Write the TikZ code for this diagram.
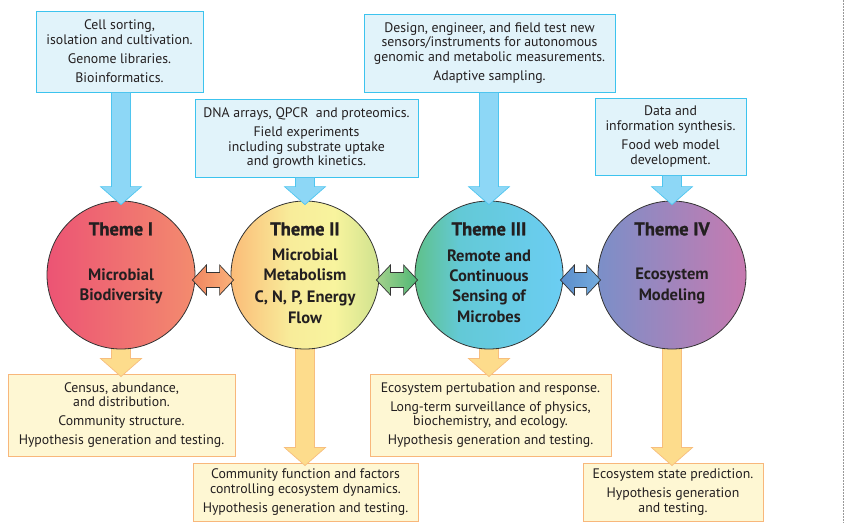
\documentclass[tikz,border=0pt]{standalone}
\usepackage{fontspec}
\setmainfont{PT Sans}
\newfontfamily\heavyfont[FakeBold=1.2]{PT Sans Bold}
\usetikzlibrary{calc,backgrounds}

% palette
\definecolor{ink}{HTML}{231F20}
\definecolor{topfill}{HTML}{E1F3FA}
\definecolor{topline}{HTML}{3CC3EE}
\definecolor{toparrow}{HTML}{8DD7F6}
\definecolor{toparrowline}{HTML}{4FC5EF}
\definecolor{botfill}{HTML}{FEF7D3}
\definecolor{botline}{HTML}{F8B77B}
\definecolor{botarrow}{HTML}{FDDC8C}
\definecolor{botarrowline}{HTML}{F7BE7E}
\definecolor{rimline}{HTML}{333333}
\definecolor{oneL}{HTML}{EC5474}
\definecolor{oneR}{HTML}{F38B6E}
\definecolor{twoL}{HTML}{FBBC78}
\definecolor{twoM}{HTML}{F8EC9A}
\definecolor{twoN}{HTML}{F8F49E}
\definecolor{twoR}{HTML}{CFE28E}
\definecolor{threeL}{HTML}{5FC18A}
\definecolor{threeM}{HTML}{63C9D6}
\definecolor{threeR}{HTML}{6BCDF3}
\definecolor{fourL}{HTML}{7B8FC8}
\definecolor{fourR}{HTML}{C77AB0}
\definecolor{linkAL}{HTML}{EF8560}
\definecolor{linkAR}{HTML}{FBB27A}
\definecolor{linkBL}{HTML}{A6D28C}
\definecolor{linkBR}{HTML}{4DB675}
\definecolor{linkCL}{HTML}{5B8CCB}
\definecolor{linkCR}{HTML}{74ADDE}

% left-to-right fills of the four theme discs
\pgfdeclarehorizontalshading{themeone}{100bp}{color(0bp)=(oneL); color(25bp)=(oneL); color(75bp)=(oneR); color(100bp)=(oneR)}
\pgfdeclarehorizontalshading{themetwo}{100bp}{color(0bp)=(twoL); color(25bp)=(twoL); color(45bp)=(twoM); color(60bp)=(twoN); color(75bp)=(twoR); color(100bp)=(twoR)}
\pgfdeclarehorizontalshading{themethree}{100bp}{color(0bp)=(threeL); color(25bp)=(threeL); color(40bp)=(threeM); color(75bp)=(threeR); color(100bp)=(threeR)}
\pgfdeclarehorizontalshading{themefour}{100bp}{color(0bp)=(fourL); color(25bp)=(fourL); color(75bp)=(fourR); color(100bp)=(fourR)}

% vertical block arrow: style, start, target (tip)
\newcommand{\blockdown}[3]{%
  \path[#1] let \p1=(#2), \p2=(#3) in
    (\x1-9.5pt,\y1) -- (\x1+9.5pt,\y1) -- (\x1+9.5pt,\y2+18pt) -- (\x1+20.5pt,\y2+18pt)
    -- (\x1,\y2) -- (\x1-20.5pt,\y2+18pt) -- (\x1-9.5pt,\y2+18pt) -- cycle;}
% horizontal double-headed block arrow: style, left tip, right tip
\newcommand{\blockboth}[3]{%
  \path[#1] let \p1=(#2), \p2=(#3) in
    (\x1,\y1) -- (\x1+14pt,\y1+15pt) -- (\x1+14pt,\y1+7.5pt) -- (\x2-14pt,\y1+7.5pt)
    -- (\x2-14pt,\y1+15pt) -- (\x2,\y1) -- (\x2-14pt,\y1-15pt) -- (\x2-14pt,\y1-7.5pt)
    -- (\x1+14pt,\y1-7.5pt) -- (\x1+14pt,\y1-15pt) -- cycle;}

\tikzset{
  boxtext/.style={align=center, text=ink, inner sep=0pt, line width=0.9pt,
    font=\fontsize{13.8}{14.6}\selectfont},
  topbox/.style={boxtext, draw=topline, fill=topfill},
  botbox/.style={boxtext, draw=botline, fill=botfill},
  theme/.style={circle, minimum size=148pt, inner sep=0pt, draw=rimline, line width=0.8pt, shade},
  themetitle/.style={text=ink, font=\fontsize{18.5}{20}\heavyfont},
  themebody/.style={text=ink, align=center, font=\fontsize{16.5}{20.3}\selectfont\bfseries},
  inarrow/.style={fill=toparrow, draw=toparrowline, line width=0.7pt},
  outarrow/.style={fill=botarrow, draw=botarrowline, line width=0.7pt},
  linkarrow/.style={draw=rimline, line width=0.7pt},
}

\begin{document}
\begin{tikzpicture}[x=1pt, y=-1pt]
\useasboundingbox (0,0) rectangle (847,523);

% theme discs
\node[theme, shading=themeone]   (c1) at (121,275) {};
\node[theme, shading=themetwo]   (c2) at (305,275) {};
\node[theme, shading=themethree] (c3) at (489,275) {};
\node[theme, shading=themefour]  (c4) at (672,275) {};

\node[themetitle] (t1) at (121,229) {Theme I};
\node[themetitle] (t2) at (305,229) {Theme II};
\node[themetitle] (t3) at (489,229) {Theme III};
\node[themetitle] (t4) at (672,229) {Theme IV};

\node[themebody] (d1) at (121,286) {Microbial\\Biodiversity};
\node[themebody] (d2) at (305,286) {Microbial\\Metabolism\\[2pt]C, N, P, Energy\\Flow};
\node[themebody] (d3) at (489,286) {Remote and\\Continuous\\Sensing of\\Microbes};
\node[themebody] (d4) at (672,286) {Ecosystem\\Modeling};

% methods feeding each theme
\node[topbox, minimum width=167pt, minimum height=81pt] (m1) at (119.5,51.5)
  {Cell sorting,\\isolation and cultivation.\\[4.5pt]Genome libraries.\\[4.5pt]Bioinformatics.};
\node[topbox, minimum width=223pt, minimum height=78pt] (m2) at (306.5,138)
  {DNA arrays, QPCR\ \ and proteomics.\\[4.5pt]Field experiments\\including substrate uptake\\and growth kinetics.};
\node[topbox, minimum width=251pt, minimum height=78pt] (m3) at (489.5,53)
  {Design, engineer, and field test new\\sensors/instruments for autonomous\\genomic and metabolic measurements.\\[4.5pt]Adaptive sampling.};
\node[topbox, minimum width=151pt, minimum height=77pt] (m4) at (670.5,136.5)
  {Data and\\information synthesis.\\[4.5pt]Food web model\\development.};

\begin{pgfonlayer}{background}
  % outcomes of each theme
  \node[botbox, minimum width=227pt, minimum height=82pt] (o1) at (121.5,415)
    {Census, abundance,\\and distribution.\\[4.5pt]Community structure.\\[4.5pt]Hypothesis generation and testing.};
  \node[botbox, minimum width=225pt, minimum height=58pt] (o2) at (305.5,492)
    {Community function and factors\\controlling ecosystem dynamics.\\[4.5pt]Hypothesis generation and testing.};
  \node[botbox, minimum width=241pt, minimum height=82pt] (o3) at (490.5,415)
    {Ecosystem pertubation and response.\\[4.5pt]Long-term surveillance of physics,\\biochemistry, and ecology.\\[4.5pt]Hypothesis generation and testing.};
  \node[botbox, minimum width=180pt, minimum height=58pt] (o4) at (673,492)
    {Ecosystem state prediction.\\[4.5pt]Hypothesis generation\\and testing.};

  % theme -> outcome arrows
  \blockdown{outarrow}{$(c1.south)+(0,-6)$}{$(o1.north)+(0,3)$}
  \blockdown{outarrow}{$(c2.south)+(0,-6)$}{$(o2.north)+(0,3)$}
  \blockdown{outarrow}{$(c3.south)+(0,-6)$}{$(o3.north)+(0,3)$}
  \blockdown{outarrow}{$(c4.south)+(0,-6)$}{$(o4.north)+(0,3)$}
\end{pgfonlayer}

% method -> theme arrows
\blockdown{inarrow}{c1 |- m1.south}{$(c1.north)+(0,4)$}
\blockdown{inarrow}{c2 |- m2.south}{$(c2.north)+(0,4)$}
\blockdown{inarrow}{c3 |- m3.south}{$(c3.north)+(0,4)$}
\blockdown{inarrow}{c4 |- m4.south}{$(c4.north)+(0,4)$}

% links between neighbouring themes
\blockboth{linkarrow, left color=linkAL, right color=linkAR}{$(c1.east)+(-3,5)$}{$(c2.west)+(3,5)$}
\blockboth{linkarrow, left color=linkBL, right color=linkBR}{$(c2.east)+(-3,5)$}{$(c3.west)+(3,5)$}
\blockboth{linkarrow, left color=linkCL, right color=linkCR}{$(c3.east)+(-3,5)$}{$(c4.west)+(3,5)$}

% dotted margin rule
\coordinate (r0) at (843,0);
\coordinate (r1) at (843,523);
\draw[black!40, line width=0.8pt, dash pattern=on 1.5pt off 1.5pt] (r0) -- (r1);
\end{tikzpicture}
\end{document}
